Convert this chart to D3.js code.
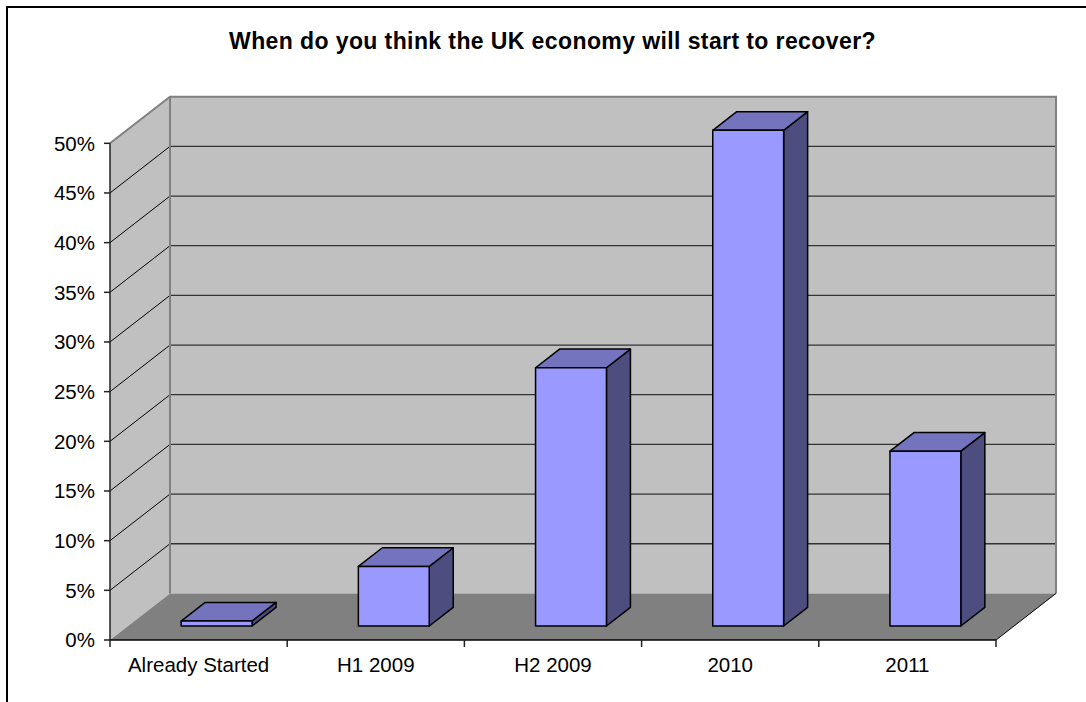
<!DOCTYPE html>
<html>
<head>
<meta charset="utf-8">
<script src="https://cdn.jsdelivr.net/npm/d3@7"></script>
<style>
  html, body { margin: 0; padding: 0; background: #ffffff; }
  svg { display: block; }
  text { font-family: "Liberation Sans", Arial, sans-serif; fill: #000; }
</style>
</head>
<body>
<script>
// Survey responses: share of respondents per expected recovery period (%)
const categories = ["Already Started", "H1 2009", "H2 2009", "2010", "2011"];
const shares = [0.5, 6.0, 26.0, 49.9, 17.6];
const yTicks = [0, 5, 10, 15, 20, 25, 30, 35, 40, 45, 50];
const titleText = "When do you think the UK economy will start to recover?";

const W = 1086, H = 702;
const svg = d3.select("body").append("svg").attr("width", W).attr("height", H);

// Outer chart frame (runs off the right and bottom edges)
svg.append("rect")
  .attr("x", 7).attr("y", 7).attr("width", 1200).attr("height", 800)
  .attr("fill", "none").attr("stroke", "#000").attr("stroke-width", 2);

// Front plane scales plus an oblique depth offset for the 3D look
const x = d3.scaleBand().domain(categories).range([110, 996])
  .paddingInner(0.6).paddingOuter(0.3);
const y = d3.scaleLinear().domain([0, 50]).range([640, 143.3]);
const DX = 60, DY = 46.6;                 // full depth offset of the back wall
const P = (px, py, d) => [px + d * DX, py - d * DY];
const poly = pts => "M" + pts.map(p => p.join(",")).join("L") + "Z";

const x0 = x.range()[0], x1 = x.range()[1];
const yTop = y(50), yBase = y(0);

// Back wall
svg.append("path")
  .attr("d", poly([P(x0, yTop, 1), P(x1, yTop, 1), P(x1, yBase, 1), P(x0, yBase, 1)]))
  .attr("fill", "#c0c0c0");
// Side wall
svg.append("path")
  .attr("d", poly([P(x0, yTop, 0), P(x0, yTop, 1), P(x0, yBase, 1), P(x0, yBase, 0)]))
  .attr("fill", "#c0c0c0");
// Floor
svg.append("path")
  .attr("d", poly([P(x0, yBase, 0), P(x1, yBase, 0), P(x1, yBase, 1), P(x0, yBase, 1)]))
  .attr("fill", "#808080");

// Gridlines across side wall and back wall
const grid = svg.append("g");
yTicks.filter(t => t > 0 && t < 50).forEach(t => {
  const a = P(x0, y(t), 0), b = P(x0, y(t), 1), c = P(x1, y(t), 1);
  grid.append("line").attr("x1", a[0]).attr("y1", a[1]).attr("x2", b[0]).attr("y2", b[1])
    .attr("stroke", "#000").attr("stroke-width", 1);
  grid.append("line").attr("x1", b[0]).attr("y1", b[1]).attr("x2", c[0]).attr("y2", c[1])
    .attr("stroke", "#333").attr("stroke-width", 1.3);
});

// Wall edges
const edge = svg.append("g").attr("fill", "none").attr("stroke", "#808080").attr("stroke-width", 2);
edge.append("path").attr("d", "M" + [P(x0, yTop, 0), P(x0, yTop, 1), P(x1, yTop, 1), P(x1, yBase, 1)].map(p => p.join(",")).join("L"));
edge.append("path").attr("d", "M" + [P(x0, yTop, 1), P(x0, yBase, 1)].map(p => p.join(",")).join("L"));

// Floor front-right edge
const fr0 = P(x1, yBase, 0), fr1 = P(x1, yBase, 1);
svg.append("line").attr("x1", fr0[0]).attr("y1", fr0[1]).attr("x2", fr1[0]).attr("y2", fr1[1])
  .attr("stroke", "#000").attr("stroke-width", 1);

// 3D columns: front face, top face, right side face
const D0 = 0.3, D1 = 0.7;
const bars = svg.append("g").attr("stroke", "#000").attr("stroke-width", 1.5).attr("stroke-linejoin", "round");
categories.forEach((c, i) => {
  const l = x(c), r = x(c) + x.bandwidth();
  const t = y(shares[i]), b = y(0);
  bars.append("path")
    .attr("d", poly([P(r, t, D0), P(r, t, D1), P(r, b, D1), P(r, b, D0)]))
    .attr("fill", "#4d4d80");
  bars.append("path")
    .attr("d", poly([P(l, t, D0), P(l, t, D1), P(r, t, D1), P(r, t, D0)]))
    .attr("fill", "#7474be");
  bars.append("path")
    .attr("d", poly([P(l, t, D0), P(r, t, D0), P(r, b, D0), P(l, b, D0)]))
    .attr("fill", "#9999ff");
});

// Value axis
const yAxis = svg.append("g");
yAxis.append("line").attr("x1", x0).attr("y1", yTop).attr("x2", x0).attr("y2", yBase)
  .attr("stroke", "#222").attr("stroke-width", 1.5);
yTicks.forEach(t => {
  yAxis.append("line").attr("x1", x0 - 6).attr("x2", x0).attr("y1", y(t)).attr("y2", y(t))
    .attr("stroke", "#222").attr("stroke-width", 1.5);
  yAxis.append("text").attr("x", 95).attr("y", y(t)).attr("dy", "0.36em")
    .attr("text-anchor", "end").attr("font-size", 20.5).text(t + "%");
});

// Category axis
const xAxis = svg.append("g");
xAxis.append("line").attr("x1", x0).attr("x2", x1).attr("y1", yBase).attr("y2", yBase)
  .attr("stroke", "#000").attr("stroke-width", 1.5);
d3.range(categories.length + 1).forEach(k => {
  const tx = x0 + k * x.step();
  xAxis.append("line").attr("x1", tx).attr("x2", tx).attr("y1", yBase).attr("y2", yBase + 7)
    .attr("stroke", "#222").attr("stroke-width", 1.5);
});
categories.forEach(c => {
  xAxis.append("text").attr("x", x(c) + x.bandwidth() / 2).attr("y", 672)
    .attr("text-anchor", "middle").attr("font-size", 20.5).text(c);
});

// Title
svg.append("text").attr("x", 552.5).attr("y", 49.3).attr("text-anchor", "middle")
  .attr("font-size", 23).attr("font-weight", "bold").attr("letter-spacing", 0.4)
  .text(titleText);
</script>
</body>
</html>
